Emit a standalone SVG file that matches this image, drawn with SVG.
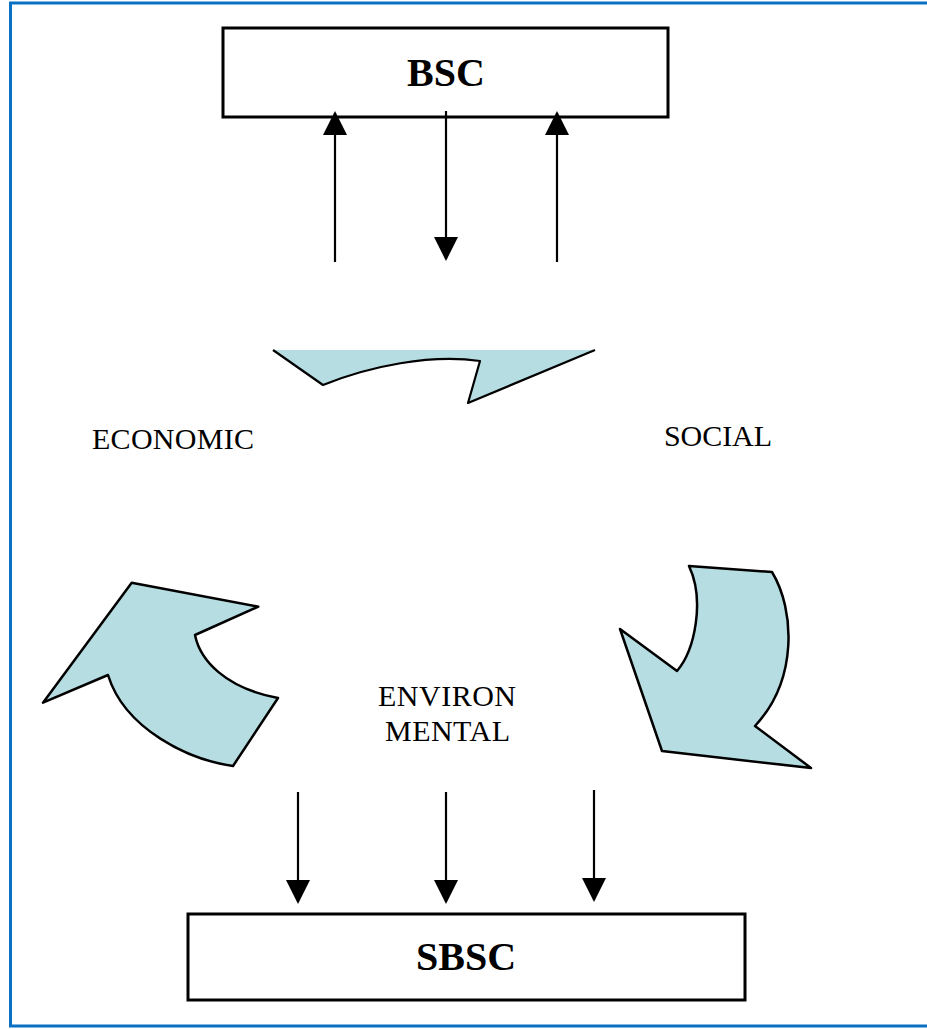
<svg xmlns="http://www.w3.org/2000/svg" width="927" height="1029" viewBox="0 0 927 1029">
<style>
.frame{fill:none;stroke:#0a70c4;stroke-width:3}
.box{fill:#fff;stroke:#000;stroke-width:3}
.title{font-family:"Liberation Serif",serif;font-weight:bold;font-size:40px;fill:#000;text-anchor:middle}
.lbl{font-family:"Liberation Serif",serif;font-size:30px;fill:#000}
.shape{fill:#b6dde2;stroke:#000;stroke-width:2.5;stroke-linejoin:round}
.ln{stroke:#000;stroke-width:2.2;fill:none}
</style>
<defs>
<marker id="ah" markerUnits="userSpaceOnUse" markerWidth="24" markerHeight="24" refX="22" refY="12" orient="auto">
<path d="M0,0 L24,12 L0,24 Z" fill="#000"/>
</marker>
</defs>
<rect width="927" height="1029" fill="#fff"/>
<path class="frame" d="M927,3 L10.5,3 L10.5,1026 L927,1026"/>

<g id="bsc">
<rect class="box" x="223" y="28" width="445" height="89"/>
<text class="title" x="446" y="86">BSC</text>
</g>

<g id="sbsc">
<rect class="box" x="188" y="914" width="557" height="86"/>
<text class="title" x="466" y="970">SBSC</text>
</g>

<g id="economic">
<text class="lbl" x="92" y="449" textLength="162">ECONOMIC</text>
</g>
<g id="social">
<text class="lbl" x="664" y="446" textLength="108">SOCIAL</text>
</g>
<g id="environmental">
<text class="lbl" x="378" y="706" textLength="138">ENVIRON</text>
<text class="lbl" x="385" y="741" textLength="125">MENTAL</text>
</g>

<g id="cycle-arrows">
<path d="M273,350 L323,385 C370,366 430,354 480,361 L468,403 L595,350 Z" fill="#b6dde2"/>
<path class="ln" d="M273,350 L323,385 C370,366 430,354 480,361 L468,403 L595,350" stroke-width="2.5" stroke-linejoin="round"/>
<path class="shape" d="M131.7,582.7 L258.3,606.7 L195,635 C200,660 225,688 278,698 L233,766 C190,760 125,730 108,675 L43,702.7 Z"/>
<path class="shape" d="M689,566 L772,572 C795,610 798,680 755,726 L811,768 L662,751 L620,629 L677,671 C695,650 705,600 689,566 Z"/>
</g>

<g id="connectors">
<line class="ln" x1="335" y1="262" x2="335" y2="113" marker-end="url(#ah)"/>
<line class="ln" x1="446" y1="111" x2="446" y2="259" marker-end="url(#ah)"/>
<line class="ln" x1="557" y1="262" x2="557" y2="113" marker-end="url(#ah)"/>
<line class="ln" x1="298" y1="792" x2="298" y2="902" marker-end="url(#ah)" stroke-width="3"/>
<line class="ln" x1="446" y1="792" x2="446" y2="902" marker-end="url(#ah)"/>
<line class="ln" x1="594" y1="790" x2="594" y2="900" marker-end="url(#ah)"/>
</g>
</svg>
